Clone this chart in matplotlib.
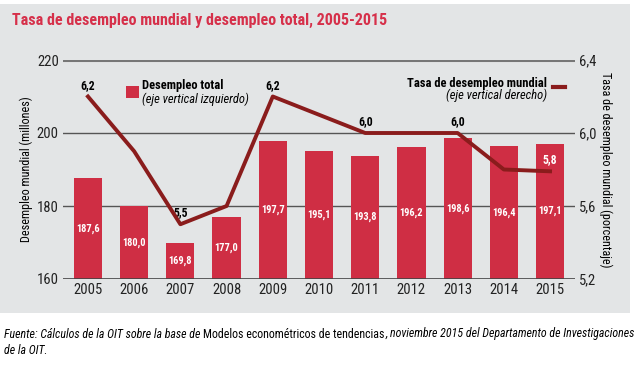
import matplotlib.pyplot as plt
from matplotlib.patches import Rectangle
from matplotlib.lines import Line2D
import numpy as np

years = [2005, 2006, 2007, 2008, 2009, 2010, 2011, 2012, 2013, 2014, 2015]
desempleo = [187.6, 180.0, 169.8, 177.0, 197.7, 195.1, 193.8, 196.2, 198.6, 196.4, 197.1]
tasa = [6.2, 5.9, 5.5, 5.6, 6.2, 6.1, 6.0, 6.0, 6.0, 5.8, 5.79]
tasa_labels = {2005: '6,2', 2007: '5,5', 2009: '6,2', 2011: '6,0', 2013: '6,0', 2015: '5,8'}

bar_color = '#cf2e44'
line_color = '#8a1c1c'
bg = '#e3e5e6'

plt.rcParams['font.family'] = ['Roboto Condensed', 'DejaVu Sans']

fig = plt.figure(figsize=(6.4, 3.65), dpi=100)
fig.patch.set_facecolor('white')
fig.patches.append(Rectangle((0, 1 - 313 / 365), 630 / 640, (313 - 4) / 365,
                             transform=fig.transFigure, facecolor=bg, edgecolor='none', zorder=-5))

ax = fig.add_axes([63 / 640, 1 - 279 / 365, (575 - 63) / 640, (279 - 60) / 365])
ax.set_facecolor('none')
x = np.arange(len(years))
ax.bar(x, desempleo, width=0.61, color=bar_color, zorder=2)
for xi, v in zip(x, desempleo):
    ax.text(xi, (160 + v) / 2, '{:.1f}'.format(v).replace('.', ','), color='white',
            ha='center', va='center', fontsize=7.5, fontweight='bold', zorder=3)
ax.set_ylim(160, 220)
ax.set_xlim(-0.54, len(years) - 1 + 0.54)
ax.set_yticks([160, 180, 200, 220])
ax.set_xticks(x)
ax.set_xticklabels([str(y) for y in years])
ax.tick_params(axis='both', length=0, labelsize=10.5, colors='#222222', pad=3)
for s in ax.spines.values():
    s.set_visible(False)
for yv in [180, 200]:
    ax.axhline(yv, color='#555555', lw=1.0, zorder=1)
ax.axhline(220, color='#777777', lw=2.2, zorder=1)
ax.axhline(160, color='#444444', lw=1.2, zorder=4)
ax.set_ylabel('Desempleo mundial (millones)', fontsize=8.7, labelpad=3)

ax2 = ax.twinx()
ax2.plot(x, tasa, color=line_color, lw=2.8, zorder=5)
ax2.set_ylim(5.2, 6.4)
ax2.set_yticks([5.2, 5.6, 6.0, 6.4])
ax2.set_yticklabels(['5,2', '5,6', '6,0', '6,4'])
ax2.tick_params(axis='y', length=0, labelsize=10.5, colors='#222222', pad=3)
for s in ax2.spines.values():
    s.set_visible(False)
ax2.set_ylabel('Tasa de desempleo mundial (porcentaje)', fontsize=8.7, rotation=270, labelpad=11)
for xi, yr, v in zip(x, years, tasa):
    if yr in tasa_labels:
        col = 'white' if yr == 2015 else 'black'
        ax2.annotate(tasa_labels[yr], (xi, v), xytext=(0, 3.5), textcoords='offset points',
                     ha='center', va='bottom', fontsize=8.5, fontweight='bold', color=col)

# legends
fig.patches.append(Rectangle((126 / 640, 1 - 98 / 365), 13 / 640, 12 / 365,
                             transform=fig.transFigure, facecolor=bar_color, edgecolor='none'))
fig.text(142 / 640, 1 - 86 / 365, 'Desempleo total', fontsize=9, fontweight='bold', va='center')
fig.text(142 / 640, 1 - 99 / 365, '(eje vertical izquierdo)', fontsize=9, style='italic', va='center')
fig.lines.append(Line2D([553 / 640, 565 / 640], [1 - 87 / 365, 1 - 87 / 365],
                        transform=fig.transFigure, color=line_color, lw=3))
fig.text(547 / 640, 1 - 83 / 365, 'Tasa de desempleo mundial', fontsize=9, fontweight='bold',
         va='center', ha='right')
fig.text(547 / 640, 1 - 95 / 365, '(eje vertical derecho)', fontsize=9, style='italic',
         va='center', ha='right')

fig.text(12 / 640, 1 - 20 / 365, 'Tasa de desempleo mundial y desempleo total, 2005-2015',
         fontsize=11.5, fontweight='bold', color='#d6304a', va='center')
src = [('Fuente: Cálculos de la OIT sobre la base de', 'italic'),
       ('Modelos econométricos de tendencias', 'normal'),
       (', noviembre 2015 del Departamento de Investigaciones', 'italic')]
gaps = [3, 0.5, 0]
renderer = fig.canvas.get_renderer()
xpos = 4 / 640
for (s, st), g in zip(src, gaps):
    t = fig.text(xpos, 1 - 334 / 365, s, fontsize=8.6, style=st, va='center')
    bb = t.get_window_extent(renderer=renderer)
    xpos += (bb.width + g) / fig.bbox.width
fig.text(4 / 640, 1 - 350 / 365, 'de la OIT.', fontsize=8.6, style='italic', va='center')

fig.savefig('out.png', dpi=100)
